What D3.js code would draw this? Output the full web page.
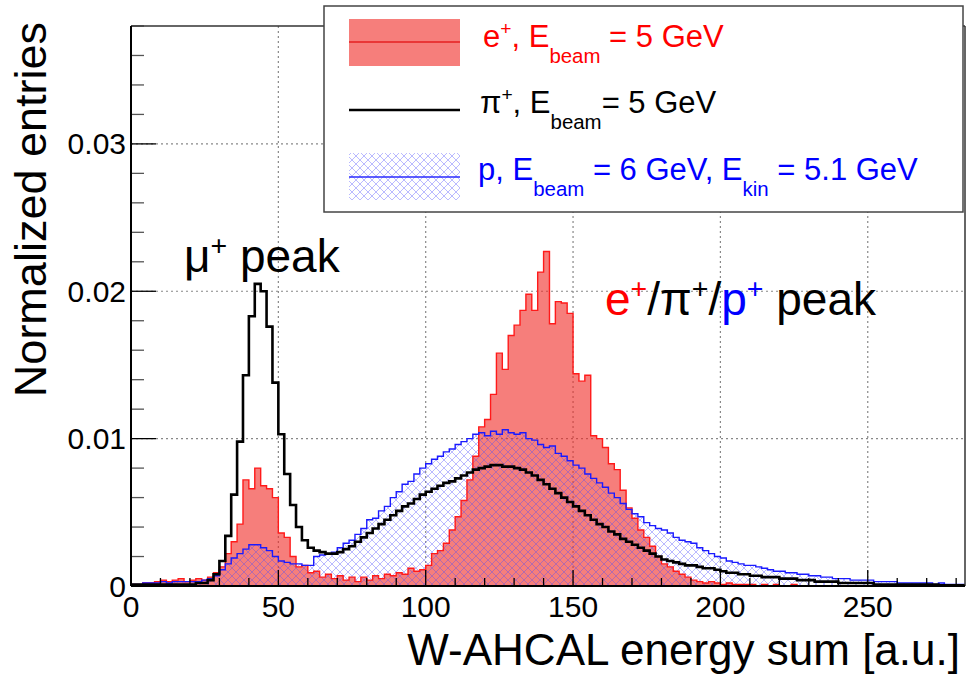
<!DOCTYPE html>
<html>
<head>
<meta charset="utf-8">
<script src="https://cdn.jsdelivr.net/npm/d3@7"></script>
<style>
  html, body { margin: 0; padding: 0; background: #fff; }
  svg text { font-family: "Liberation Sans", Arial, Helvetica, sans-serif; }
</style>
</head>
<body>
<svg id="chart" width="967" height="677"></svg>
<script>
// ---------- data ----------
const binWidth = 2;
const binLow = d3.range(0, 284, binWidth); // 142 bins: lower edges 0,2,...,282

const positronValues = [
  0.0001,0.0001,0.0002,0.0002,0.0003,0.0004,0.0003,0.0004,0.0005,0.0003,0.0004,0.0005,0.0004,0.0006,0.0009,
  0.0013,0.0022,0.0030,0.0042,0.0072,0.0066,0.0080,0.0068,0.0066,0.0060,0.0036,0.0033,0.0020,0.0013,0.0014,
  0.0009,0.0010,0.0006,0.0008,0.0005,0.0007,0.0004,0.0006,0.0003,0.0006,0.0004,0.0007,0.0005,0.0008,0.0007,
  0.0009,0.0008,0.0012,0.0010,0.0011,0.0014,0.0022,0.0024,0.0029,0.0038,0.0047,0.0058,0.0072,0.0088,0.0108,
  0.0113,0.0130,0.0158,0.0147,0.0170,0.0177,0.0187,0.0198,0.0187,0.0213,0.0227,0.0178,0.0193,0.0192,0.0185,
  0.0144,0.0139,0.0143,0.0102,0.0100,0.0094,0.0083,0.0079,0.0065,0.0053,0.0046,0.0038,0.0033,0.0027,0.0020,
  0.0015,0.0013,0.0010,0.0008,0.0006,0.0004,0.0003,0.0002,0.0003,0.0002,0.0001,0.0002,0.0001,0.0001,0.0001,
  0.0001,0,0.0001,0,0.0001,0,0,0.0001,0,0,0,0,0,0,0,
  0,0,0,0,0,0,0,0,0,0,0,0,0,0,0,
  0,0,0,0,0,0,0
];

const pionValues = [
  0.0001,0.0001,0.0001,0.0001,0.0001,0.0001,0.0001,0.0001,0.0001,0.0001,0.0001,0.0002,0.0002,0.0004,0.0008,
  0.0017,0.0034,0.0062,0.0098,0.0143,0.0183,0.0205,0.0200,0.0176,0.0138,0.0103,0.0076,0.0055,0.0040,0.0031,
  0.0026,0.0024,0.0023,0.0022,0.0022,0.0023,0.0025,0.0027,0.0030,0.0033,0.0036,0.0039,0.0042,0.0045,0.0048,
  0.0051,0.0054,0.0056,0.0059,0.0062,0.0064,0.0066,0.0068,0.0070,0.0071,0.0073,0.0075,0.0077,0.0079,0.0080,
  0.0081,0.0082,0.0082,0.0081,0.0081,0.0080,0.0079,0.0077,0.0075,0.0072,0.0069,0.0066,0.0063,0.0060,0.0057,
  0.0054,0.0051,0.0048,0.0045,0.0042,0.0040,0.0037,0.0035,0.0032,0.0030,0.0028,0.0026,0.0024,0.0022,0.0020,
  0.0018,0.0017,0.0016,0.0015,0.0014,0.0014,0.0013,0.0012,0.0012,0.0011,0.0010,0.0009,0.0009,0.0008,0.0008,
  0.0007,0.0007,0.0006,0.0006,0.0006,0.0005,0.0005,0.0005,0.0004,0.0004,0.0004,0.0003,0.0003,0.0003,0.0003,
  0.0002,0.0002,0.0002,0.0002,0.0002,0.0002,0.0001,0.0001,0.0001,0.0001,0.0001,0.0001,0.0001,0.0001,0.0001,
  0.0001,0.0001,0.00005,0.00005,0.00005,0.00005,0.00005
];

const protonValues = [
  0.0001,0.0001,0.0002,0.0002,0.0002,0.0003,0.0002,0.0003,0.0003,0.0003,0.0003,0.0003,0.0004,0.0005,0.0007,
  0.0011,0.0015,0.0019,0.0022,0.0025,0.0028,0.0028,0.0026,0.0024,0.0020,0.0017,0.0016,0.0015,0.0015,0.0014,
  0.0014,0.0020,0.0021,0.0022,0.0023,0.0026,0.0029,0.0031,0.0035,0.0039,0.0045,0.0046,0.0051,0.0054,0.0060,
  0.0064,0.0069,0.0071,0.0076,0.0080,0.0083,0.0086,0.0088,0.0091,0.0093,0.0096,0.0098,0.0100,0.0103,0.0104,
  0.0102,0.0105,0.0103,0.0106,0.0104,0.0103,0.0104,0.0100,0.0099,0.0096,0.0094,0.0095,0.0090,0.0088,0.0085,
  0.0082,0.0080,0.0076,0.0073,0.0070,0.0067,0.0063,0.0060,0.0056,0.0052,0.0049,0.0047,0.0043,0.0041,0.0039,
  0.0038,0.0036,0.0033,0.0031,0.0030,0.0029,0.0026,0.0024,0.0022,0.0020,0.0019,0.0017,0.0016,0.0015,0.0014,
  0.0014,0.0013,0.0012,0.0011,0.0010,0.0010,0.0009,0.0009,0.0008,0.0008,0.0007,0.0007,0.0006,0.0006,0.0005,
  0.0005,0.0005,0.0004,0.0004,0.0004,0.0004,0.0003,0.0003,0.0003,0.0003,0.0002,0.0002,0.0002,0.0002,0.0002,
  0.0002,0.0001,0.0002,0.0001,0.0001,0.0001,0.0001
];

const xTicks = [0, 50, 100, 150, 200, 250];
const yTicks = [0, 0.01, 0.02, 0.03];
const yTickLabels = ["0", "0.01", "0.02", "0.03"];
const xDomain = [0, 283];
const yDomain = [0, 0.038];

// ---------- layout ----------
const L = 131, R = 965, T = 26, B = 586;
const svg = d3.select("#chart");
const x = d3.scaleLinear().domain(xDomain).range([L, R]);
const y = d3.scaleLinear().domain(yDomain).range([B, T]);

const defs = svg.append("defs");
defs.append("clipPath").attr("id", "plotclip")
  .append("rect").attr("x", L).attr("y", T).attr("width", R - L).attr("height", B - T);

const hs = 8;
const pat = defs.append("pattern").attr("id", "hatch")
  .attr("patternUnits", "userSpaceOnUse").attr("width", hs).attr("height", hs);
pat.append("path").attr("d", `M-1,-1 L${hs+1},${hs+1} M-1,${hs+1} L${hs+1},-1`)
  .attr("stroke", "#4848ff").attr("stroke-width", 0.75).attr("stroke-opacity", 0.5).attr("fill", "none");

const redFill = "rgba(240,40,35,0.6)";

// grid
const grid = svg.append("g");
xTicks.filter(d => d > 0).forEach(d => {
  grid.append("line").attr("x1", x(d)).attr("x2", x(d)).attr("y1", T).attr("y2", B)
    .attr("stroke", "#888").attr("stroke-width", 1.2).attr("stroke-dasharray", "2,3");
});
yTicks.filter(d => d > 0).forEach(d => {
  grid.append("line").attr("x1", L).attr("x2", R).attr("y1", y(d)).attr("y2", y(d))
    .attr("stroke", "#888").attr("stroke-width", 1.2).attr("stroke-dasharray", "2,3");
});

// histograms
function pts(vals) {
  const p = binLow.map((lo, i) => ({ x: lo, v: vals[i] }));
  p.push({ x: binLow[binLow.length - 1] + binWidth, v: vals[vals.length - 1] });
  return p;
}
const area = d3.area().curve(d3.curveStepAfter).x(d => x(d.x)).y0(y(0)).y1(d => y(d.v));
const line = d3.line().curve(d3.curveStepAfter).x(d => x(d.x)).y(d => y(d.v));

const plot = svg.append("g").attr("clip-path", "url(#plotclip)");
const ePts = pts(positronValues), piPts = pts(pionValues), pPts = pts(protonValues);

plot.append("path").attr("d", area(ePts)).attr("fill", redFill);
plot.append("path").attr("d", area(pPts)).attr("fill", "url(#hatch)");
plot.append("path").attr("d", line(ePts)).attr("fill", "none").attr("stroke", "#ff1a1a").attr("stroke-width", 1.4);
plot.append("path").attr("d", line(pPts)).attr("fill", "none").attr("stroke", "#1a1aff").attr("stroke-width", 1.4);
plot.append("path").attr("d", line(piPts)).attr("fill", "none").attr("stroke", "#000").attr("stroke-width", 2.6);

// axes ticks
const ax = svg.append("g");
d3.range(10, 284, 10).forEach(d => {
  const major = d % 50 === 0;
  ax.append("line").attr("x1", x(d)).attr("x2", x(d)).attr("y1", B).attr("y2", B - (major ? 16 : 8))
    .attr("stroke", "#000").attr("stroke-width", 1.3);
});
d3.range(0.002, 0.0381, 0.002).forEach(d => {
  const major = Math.abs(d * 100 - Math.round(d * 100)) < 1e-6;
  ax.append("line").attr("x1", L).attr("x2", L + (major ? 25 : 13)).attr("y1", y(d)).attr("y2", y(d))
    .attr("stroke", major ? "#000" : "#555").attr("stroke-width", 1.3);
});
// frame
svg.append("line").attr("x1", L).attr("x2", R).attr("y1", T).attr("y2", T).attr("stroke", "#333").attr("stroke-width", 1.5);
svg.append("line").attr("x1", R).attr("x2", R).attr("y1", T).attr("y2", B).attr("stroke", "#333").attr("stroke-width", 1.5);
svg.append("line").attr("x1", L).attr("x2", R).attr("y1", B).attr("y2", B).attr("stroke", "#000").attr("stroke-width", 2);
svg.append("line").attr("x1", L).attr("x2", L).attr("y1", T).attr("y2", B).attr("stroke", "#000").attr("stroke-width", 2);

// tick labels
const tl = svg.append("g").attr("font-size", 30).attr("fill", "#000");
xTicks.forEach(d => {
  tl.append("text").attr("x", x(d)).attr("y", 617).attr("text-anchor", "middle").text(d);
});
yTicks.forEach((d, i) => {
  tl.append("text").attr("x", 126).attr("y", y(d) + 10.5).attr("text-anchor", "end").text(yTickLabels[i]);
});

// axis titles
svg.append("text").attr("x", 960).attr("y", 665).attr("text-anchor", "end")
  .attr("font-size", 44).text("W-AHCAL energy sum [a.u.]");
svg.append("text").attr("transform", "translate(46,22) rotate(-90)").attr("text-anchor", "end")
  .attr("font-size", 45).text("Normalized entries");

// rich text helper
function rich(g, px, py, size, parts, subScale) {
  const ss = subScale || 0.7;
  const t = g.append("text").attr("x", px).attr("y", py).attr("font-size", size);
  let cur = 0;
  parts.forEach(p => {
    let target = 0, fs = size;
    if (p.k === "sup") { target = -size * 0.38; fs = size * 0.62; }
    if (p.k === "sub") { target = size * 0.5; fs = size * ss; }
    t.append("tspan").attr("dy", target - cur).attr("font-size", fs)
      .attr("fill", p.c || null).text(p.t);
    cur = target;
  });
  return t;
}

// legend
const lg = svg.append("g");
lg.append("rect").attr("x", 324).attr("y", 6).attr("width", 639).attr("height", 206)
  .attr("fill", "#fff").attr("stroke", "#444").attr("stroke-width", 1.5);
lg.append("rect").attr("x", 349).attr("y", 19).attr("width", 111).attr("height", 47).attr("fill", redFill);
lg.append("line").attr("x1", 349).attr("x2", 460).attr("y1", 42).attr("y2", 42).attr("stroke", "#e52020").attr("stroke-width", 1.4);
lg.append("line").attr("x1", 349).attr("x2", 460).attr("y1", 110).attr("y2", 110).attr("stroke", "#000").attr("stroke-width", 2.6);
lg.append("rect").attr("x", 349).attr("y", 153).attr("width", 111).attr("height", 47).attr("fill", "url(#hatch)");
lg.append("line").attr("x1", 349).attr("x2", 460).attr("y1", 177).attr("y2", 177).attr("stroke", "#2a2aff").attr("stroke-width", 1.4);

rich(lg, 483, 47, 31, [{t: "e"}, {t: "+", k: "sup"}, {t: ", E"}, {t: "beam", k: "sub"}, {t: " = 5 GeV"}], 0.66).attr("fill", "#ff0000");
rich(lg, 480, 113, 31, [{t: "π"}, {t: "+", k: "sup"}, {t: ", E"}, {t: "beam", k: "sub"}, {t: "= 5 GeV"}], 0.66).attr("fill", "#000");
rich(lg, 478, 180, 31, [{t: "p, E"}, {t: "beam", k: "sub"}, {t: " = 6 GeV, E"}, {t: "kin", k: "sub"}, {t: " = 5.1 GeV"}], 0.66).attr("fill", "#0000ff");

// annotations
rich(svg, 184, 272, 46, [{t: "μ"}, {t: "+", k: "sup"}, {t: " peak"}]).attr("fill", "#000");
rich(svg, 605, 315, 46, [{t: "e", c: "#ff0000"}, {t: "+", k: "sup", c: "#ff0000"}, {t: "/π"}, {t: "+", k: "sup"},
  {t: "/"}, {t: "p", c: "#0000ff"}, {t: "+", k: "sup", c: "#0000ff"}, {t: " peak"}]).attr("fill", "#000");
</script>
</body>
</html>
